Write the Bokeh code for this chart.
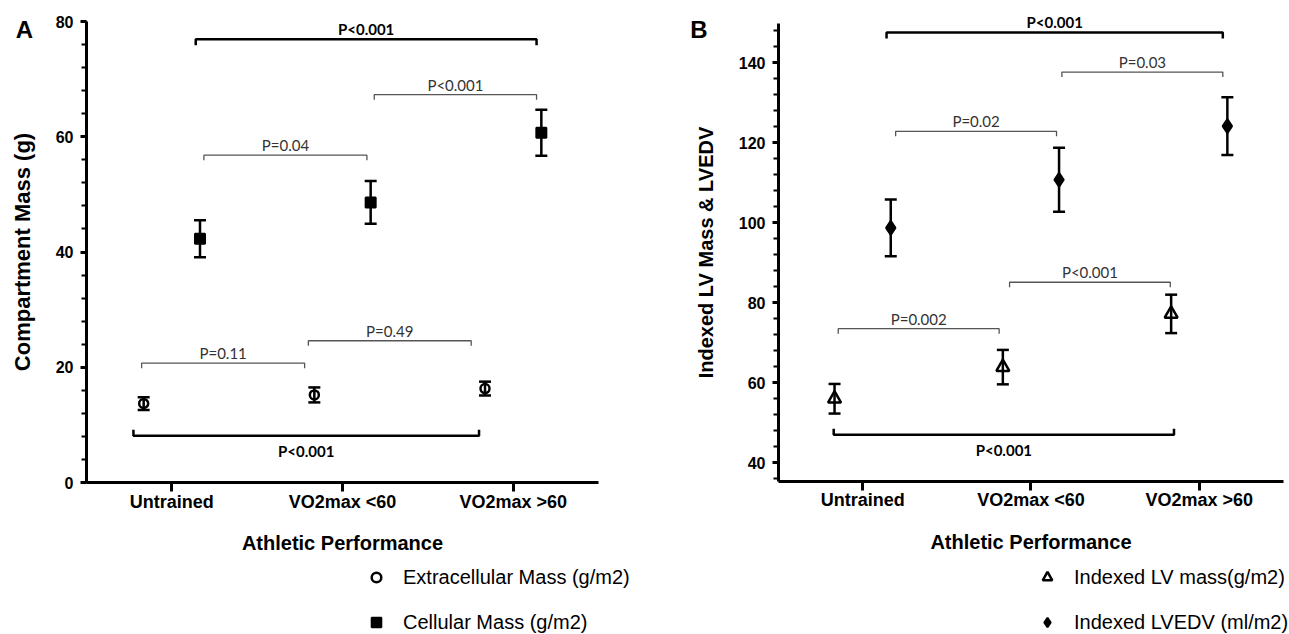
from bokeh.plotting import figure
from bokeh.models import (ColumnDataSource, Whisker, TeeHead, FixedTicker, SingleIntervalTicker,
                          Range1d, Legend, LegendItem, Label)
from bokeh.layouts import row
from bokeh.embed import file_html
from bokeh.resources import INLINE

categories = ["Untrained", "VO2max <60", "VO2max >60"]

# Panel A
ecm_mean = [13.7, 15.2, 16.3]
ecm_err = [1.1, 1.3, 1.2]
cm_mean = [42.3, 48.6, 60.7]
cm_err = [3.2, 3.7, 4.0]

# Panel B
lvm_mean = [56.0, 63.9, 77.2]
lvm_err = [3.7, 4.3, 4.8]
lvedv_mean = [98.7, 110.7, 124.1]
lvedv_err = [7.1, 8.0, 7.2]

# significance brackets: (from, to, height, label, strong, opening)
brackets_a = [
    (1.14, 3.137, 76.9, "P<0.001", True, "down"),
    (2.186, 3.137, 67.3, "P<0.001", False, "down"),
    (1.188, 2.143, 56.8, "P=0.04", False, "down"),
    (0.823, 1.778, 20.7, "P=0.11", False, "down"),
    (1.80, 2.754, 24.6, "P=0.49", False, "down"),
    (0.775, 2.80, 8.1, "P<0.001", True, "up"),
]
brackets_b = [
    (1.142, 3.14, 147.5, "P<0.001", True, "down"),
    (2.184, 3.14, 137.6, "P=0.03", False, "down"),
    (1.196, 2.152, 122.8, "P=0.02", False, "down"),
    (1.873, 2.828, 85.1, "P<0.001", False, "down"),
    (0.855, 1.811, 73.5, "P=0.002", False, "down"),
    (0.828, 2.85, 47.0, "P<0.001", True, "up"),
]

FONT = "Liberation Sans"
PFONT = "Lato"
H = 634


def make_panel(fig_left, fig_w, ax_px, xs, ref_val, ref_py, ys, y_bounds, ylabel, ylabel_size,
               ylabel_standoff, series, brackets, letter, letter_px, legend_px):
    def px2x(px):
        return 0.5 + (px - ax_px) / xs

    def py2y(py):
        return ref_val + (ref_py - py) / ys

    p = figure(width=fig_w, height=H, min_border=0,
               x_range=Range1d(px2x(fig_left), px2x(fig_left + fig_w)),
               y_range=Range1d(py2y(H), py2y(0)),
               output_backend="svg", toolbar_location=None, tools="")
    p.outline_line_color = None
    p.xgrid.visible = False
    p.ygrid.visible = False
    p.background_fill_color = "white"
    p.border_fill_color = "white"

    for ax in (p.xaxis[0], p.yaxis[0]):
        ax.axis_line_width = 3
        ax.axis_line_color = "black"
        ax.major_tick_line_width = 3
        ax.major_tick_line_color = "black"
        ax.major_tick_in = 0
        ax.minor_tick_in = 0
        ax.major_label_text_font = FONT
        ax.major_label_text_font_style = "bold"
        ax.major_label_text_color = "black"
        ax.axis_label_text_font = FONT
        ax.axis_label_text_font_style = "bold"
        ax.axis_label_text_color = "black"

    xa = p.xaxis[0]
    xa.ticker = FixedTicker(ticks=[1, 2, 3])
    xa.major_label_overrides = {i + 1: c for i, c in enumerate(categories)}
    xa.bounds = (0.5, 3.5)
    xa.fixed_location = y_bounds[0]
    xa.major_tick_out = 9
    xa.minor_tick_out = 0
    xa.major_label_text_font_size = "18px"
    xa.major_label_standoff = 0
    xa.axis_label = "Athletic Performance"
    xa.axis_label_text_font_size = "20px"
    xa.axis_label_standoff = 17

    ya = p.yaxis[0]
    ya.ticker = SingleIntervalTicker(interval=20, num_minor_ticks=5)
    ya.bounds = y_bounds
    ya.fixed_location = 0.5
    ya.major_tick_out = 6
    ya.minor_tick_out = 5
    ya.minor_tick_line_width = 2
    ya.minor_tick_line_color = "black"
    ya.major_label_text_font_size = "16px"
    ya.major_label_standoff = 7
    ya.axis_label = ylabel
    ya.axis_label_text_font_size = ylabel_size
    ya.axis_label_standoff = ylabel_standoff

    items = []
    for name, means, errs, offset, marker, size, filled in series:
        xpos = [i + 1 + offset for i in range(len(means))]
        src = ColumnDataSource(dict(x=xpos, y=means,
                                    upper=[m + e for m, e in zip(means, errs)],
                                    lower=[m - e for m, e in zip(means, errs)]))
        w = Whisker(base="x", upper="upper", lower="lower", source=src,
                    line_width=2.5, line_color="black",
                    upper_head=TeeHead(size=12, line_width=2.5, line_color="black"),
                    lower_head=TeeHead(size=12, line_width=2.5, line_color="black"))
        p.add_layout(w)
        r = p.scatter("x", "y", source=src, marker=marker, size=size,
                      fill_color="black" if filled else None,
                      line_color="black", line_width=2 if filled else 2.5)
        items.append(LegendItem(label=name, renderers=[r]))

    for x0, x1, y, label, strong, opening in brackets:
        t = (6 if strong else 5) / ys
        if opening == "down":
            bys = [y - t, y, y, y - t]
            ty = y + 10 / ys
        else:
            bys = [y + t, y, y, y + t]
            ty = y - 15 / ys
        p.line([x0, x0, x1, x1], bys, line_width=2.5 if strong else 1.3,
               line_color="black" if strong else "#555555")
        p.add_layout(Label(x=(x0 + x1) / 2, y=ty, text=label, text_align="center",
                           text_baseline="middle",
                           text_font=PFONT, text_font_size="15px",
                           text_font_style="bold" if strong else "normal",
                           text_color="black" if strong else "#333333"))

    p.add_layout(Label(x=px2x(letter_px[0]), y=py2y(letter_px[1]), text=letter,
                       text_align="center", text_baseline="middle", text_font=FONT,
                       text_font_size="24px", text_font_style="bold", text_color="black"))

    legend = Legend(items=items, location=(legend_px[0] - fig_left, H - legend_px[1] - 69),
                    orientation="vertical",
                    glyph_width=24, glyph_height=24, label_height=24, label_standoff=15,
                    spacing=21, padding=0, margin=0,
                    background_fill_alpha=0, border_line_alpha=0,
                    label_text_font=FONT, label_text_font_size="20px",
                    label_text_color="black")
    p.add_layout(legend)
    return p


pa = make_panel(0, 680, 86, 170.67, 0.0, 482, 5.7625, (0, 80),
                "Compartment Mass (g)", "22px", 18,
                [("Extracellular Mass (g/m2)", ecm_mean, ecm_err, -0.165, "circle", 9, False),
                 ("Cellular Mass (g/m2)", cm_mean, cm_err, 0.165, "square", 10, True)],
                brackets_a, "A", (24, 28.5), (364, 565))

pb = make_panel(680, 609, 778, 168.3, 140.0, 62, 4.003, (35.33, 149.74),
                "Indexed LV Mass & LVEDV", "20px", 19,
                [("Indexed LV mass(g/m2)", lvm_mean, lvm_err, -0.167, "triangle", 13, False),
                 ("Indexed LVEDV (ml/m2)", lvedv_mean, lvedv_err, 0.167, "diamond", 14, True)],
                brackets_b, "B", (698.5, 28.5), (1035, 565))

layout = row(pa, pb)
open("out.html", "w").write(file_html(layout, INLINE))
